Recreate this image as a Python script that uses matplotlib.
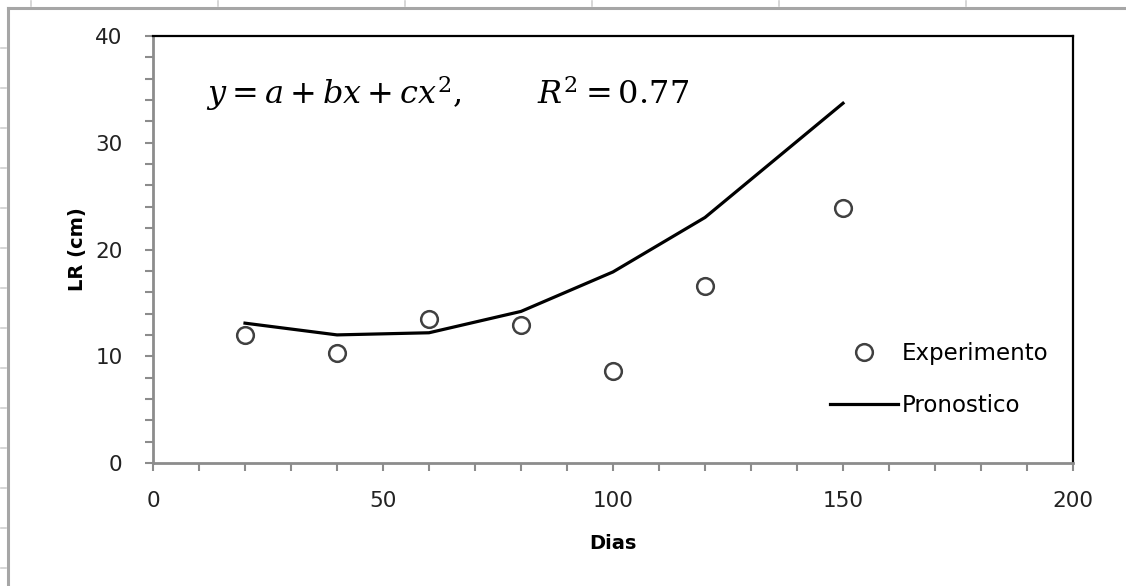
import matplotlib
matplotlib.use("Agg")
from matplotlib import pyplot as plt
from matplotlib.lines import Line2D
from matplotlib.ticker import MultipleLocator

# datos
dias = [20, 40, 60, 80, 100, 120, 150]
experimento = [12.0, 10.3, 13.5, 12.9, 8.6, 16.6, 23.9]
pronostico = [13.1, 12.0, 12.2, 14.2, 17.9, 23.0, 33.7]

W, H = 1126, 586


def marco_exterior(fig):
    # marco gris de la captura original, con sus pequenas marcas
    gris = "#a6a6a6"
    claro = "#d0d0d0"
    fig.add_artist(Line2D([8 / W, 8 / W], [0, 1 - 8 / H], color=gris, lw=2.2))
    fig.add_artist(Line2D([8 / W, 1], [1 - 8 / H, 1 - 8 / H], color=gris, lw=2.2))
    for yp in range(48, H, 40):
        fig.add_artist(Line2D([1 / W, 6 / W], [1 - yp / H, 1 - yp / H], color=claro, lw=1.2))
    for xp in range(31, W, 187):
        fig.add_artist(Line2D([xp / W, xp / W], [1 - 1 / H, 1 - 6 / H], color=claro, lw=1.2))


def graficar():
    fig = plt.figure(figsize=(W / 100, H / 100), dpi=100)
    ax = fig.add_axes([153 / W, 123 / H, 920 / W, 427 / H])

    ax.plot(dias, pronostico, color="black", lw=2.3, label="Pronostico", zorder=2)
    ax.plot(dias, experimento, "o", ms=12, mfc="white", mec="#404040", mew=1.8,
            label="Experimento", zorder=3)

    ax.set_xlim(0, 200)
    ax.set_ylim(0, 40)
    ax.xaxis.set_major_locator(MultipleLocator(50))
    ax.xaxis.set_minor_locator(MultipleLocator(10))
    ax.yaxis.set_major_locator(MultipleLocator(10))
    ax.yaxis.set_minor_locator(MultipleLocator(2))
    ax.tick_params(which="both", direction="out", length=6, width=1.5, color="#8c8c8c",
                   labelsize=15.5, labelcolor="#222222")
    ax.tick_params(axis="x", pad=14)
    ax.tick_params(axis="y", pad=16)

    for lado in ("left", "bottom"):
        ax.spines[lado].set_color("#8c8c8c")
        ax.spines[lado].set_linewidth(2)
    for lado in ("top", "right"):
        ax.spines[lado].set_color("black")
        ax.spines[lado].set_linewidth(1.6)

    ax.set_xlabel("Dias", fontsize=14, fontweight="bold", labelpad=17)
    ax.set_ylabel("LR (cm)", fontsize=14, fontweight="bold", labelpad=6)

    ax.text(0.058, 0.865, r"$y = a + bx + cx^2,\qquad\; R^2 = 0.77$",
            transform=ax.transAxes, fontsize=23, va="center", ha="left")

    handles, labels = ax.get_legend_handles_labels()
    ax.legend(handles[::-1], labels[::-1], loc="center left",
              bbox_to_anchor=(0.713, 0.196), frameon=False, fontsize=16.5,
              handlelength=3.0, handletextpad=0.15, labelspacing=1.25)

    marco_exterior(fig)
    fig.savefig("out.png", dpi=100)


if __name__ == "__main__":
    plt.rcParams["mathtext.fontset"] = "dejavuserif"
    graficar()
